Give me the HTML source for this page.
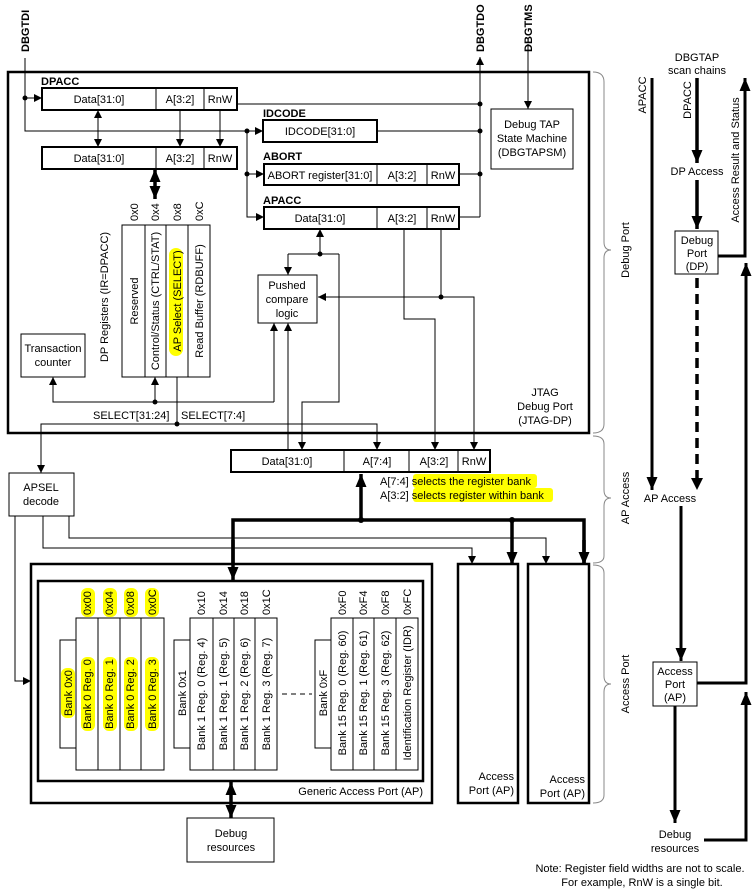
<!DOCTYPE html>
<html><head><meta charset="utf-8"><style>
html,body{margin:0;padding:0;background:#fff;}
svg{display:block;font-family:"Liberation Sans",Arial,sans-serif;font-size:11px;}
</style></head><body>
<svg width="754" height="892" viewBox="0 0 754 892" xmlns="http://www.w3.org/2000/svg">
<defs>
<marker id="a" viewBox="0 0 10 10" refX="10" refY="5" markerWidth="8" markerHeight="8" markerUnits="userSpaceOnUse" orient="auto"><path d="M0,0L10,5L0,10z" fill="#000"/></marker>
<marker id="as" viewBox="0 0 10 10" refX="0" refY="5" markerWidth="8" markerHeight="8" markerUnits="userSpaceOnUse" orient="auto"><path d="M10,0L0,5L10,10z" fill="#000"/></marker>
<marker id="b" viewBox="0 0 10 10" refX="10" refY="5" markerWidth="13" markerHeight="11" markerUnits="userSpaceOnUse" orient="auto" preserveAspectRatio="none"><path d="M0,0L10,5L0,10z" fill="#000"/></marker>
<marker id="bs" viewBox="0 0 10 10" refX="0" refY="5" markerWidth="13" markerHeight="11" markerUnits="userSpaceOnUse" orient="auto" preserveAspectRatio="none"><path d="M10,0L0,5L10,10z" fill="#000"/></marker>
</defs>
<g fill="none" stroke="#000">
<rect x="8" y="72" width="581" height="361" stroke-width="2.5"/>
<rect x="42" y="88" width="195" height="22" stroke-width="2"/>
<line x1="156" y1="88" x2="156" y2="110"/><line x1="204" y1="88" x2="204" y2="110"/>
<rect x="42" y="147" width="195" height="22" stroke-width="2"/>
<line x1="156" y1="147" x2="156" y2="169"/><line x1="204" y1="147" x2="204" y2="169"/>
<rect x="263" y="120" width="114" height="22" stroke-width="2"/>
<rect x="264" y="164" width="195" height="21" stroke-width="2"/>
<line x1="377" y1="164" x2="377" y2="185"/><line x1="427" y1="164" x2="427" y2="185"/>
<rect x="264" y="207" width="195" height="22" stroke-width="2"/>
<line x1="377" y1="207" x2="377" y2="229"/><line x1="427" y1="207" x2="427" y2="229"/>
<rect x="491" y="109" width="82" height="60"/>
<polyline points="25,58 25,131 246,131"/>
<line x1="25" y1="98" x2="42" y2="98" marker-end="url(#a)"/>
<line x1="247" y1="131" x2="263" y2="131" marker-end="url(#a)"/>
<line x1="247" y1="174" x2="264" y2="174" marker-end="url(#a)"/>
<polyline points="247,131 247,217 264,217" marker-end="url(#a)"/>
<line x1="480" y1="217" x2="480" y2="57" marker-end="url(#a)"/>
<polyline points="459,217 480,217"/>
<line x1="237" y1="104" x2="480" y2="104"/>
<line x1="377" y1="131" x2="480" y2="131"/>
<line x1="459" y1="174" x2="480" y2="174"/>
<line x1="528" y1="44" x2="528" y2="109" marker-end="url(#a)"/>
<line x1="98" y1="110" x2="98" y2="147" marker-start="url(#as)" marker-end="url(#a)"/>
<line x1="180" y1="110" x2="180" y2="147" marker-end="url(#a)"/>
<line x1="220" y1="110" x2="220" y2="147" marker-end="url(#a)"/>
<line x1="155" y1="169" x2="155" y2="199" stroke-width="3.5" marker-start="url(#bs)" marker-end="url(#b)"/>
<rect x="122" y="225" width="88" height="152"/>
<line x1="145" y1="225" x2="145" y2="377"/><line x1="166" y1="225" x2="166" y2="377"/><line x1="188" y1="225" x2="188" y2="377"/>
<rect x="21" y="334" width="64" height="43"/>
<rect x="258" y="275" width="59" height="48"/>
<line x1="320" y1="254" x2="320" y2="229" marker-end="url(#a)"/>
<polyline points="288,254 339,254"/>
<line x1="288" y1="254" x2="288" y2="275" marker-end="url(#a)"/>
<polyline points="339,254 339,402 302,402 302,450" marker-end="url(#a)"/>
<polyline points="441,229 441,297 474,297 474,450" marker-end="url(#a)"/>
<line x1="441" y1="297" x2="318" y2="297" marker-end="url(#a)"/>
<polyline points="404,229 404,319 435,319 435,450" marker-end="url(#a)"/>
<line x1="288" y1="450" x2="288" y2="323" marker-end="url(#a)"/>
<polyline points="274,402 53,402 53,377" marker-end="url(#a)"/>
<line x1="274" y1="402" x2="274" y2="323" marker-end="url(#a)"/>
<line x1="155" y1="402" x2="155" y2="377" marker-end="url(#a)"/>
<line x1="177" y1="377" x2="177" y2="424"/>
<polyline points="41,473 41,424 377,424 377,450" marker-end="url(#a)"/>
<line x1="41" y1="440" x2="41" y2="473" marker-end="url(#a)"/>
<rect x="231" y="450" width="259" height="22" stroke-width="2"/>
<line x1="344" y1="450" x2="344" y2="472"/><line x1="409" y1="450" x2="409" y2="472"/><line x1="458" y1="450" x2="458" y2="472"/>
<rect x="9" y="473" width="65" height="43"/>
<line x1="361" y1="520" x2="361" y2="474" stroke-width="3.5" marker-end="url(#b)"/>
<polyline points="233,565 233,520 584,520 584,565" stroke-width="3.5"/>
<line x1="233" y1="540" x2="233" y2="580" stroke-width="3.5" marker-end="url(#b)"/>
<line x1="584" y1="540" x2="584" y2="565" stroke-width="3.5" marker-end="url(#b)"/>
<line x1="512" y1="520" x2="512" y2="565" stroke-width="3.5" marker-end="url(#b)"/>
<polyline points="15,516 15,681 31,681" marker-end="url(#a)"/>
<polyline points="43,516 43,548 472,548 472,564" marker-end="url(#a)"/>
<polyline points="69,516 69,538 546,538 546,564" marker-end="url(#a)"/>
<rect x="31" y="564" width="401" height="239" stroke-width="2.5"/>
<rect x="38" y="581" width="385" height="200" stroke-width="2.5"/>
<line x1="231" y1="782" x2="231" y2="818" stroke-width="3.5" marker-start="url(#bs)" marker-end="url(#b)"/>
<rect x="187" y="818" width="87" height="44"/>
<rect x="458" y="564" width="60" height="239" stroke-width="2.5"/>
<rect x="528" y="564" width="61" height="239" stroke-width="2.5"/>
<rect x="60" y="640" width="16" height="108"/>
<rect x="76" y="618" width="88" height="152"/>
<line x1="98" y1="618" x2="98" y2="770"/><line x1="120" y1="618" x2="120" y2="770"/><line x1="141" y1="618" x2="141" y2="770"/>
<rect x="174" y="640" width="16" height="108"/>
<rect x="190" y="618" width="87" height="152"/>
<line x1="213" y1="618" x2="213" y2="770"/><line x1="234" y1="618" x2="234" y2="770"/><line x1="255" y1="618" x2="255" y2="770"/>
<line x1="282" y1="694" x2="312" y2="694" stroke-dasharray="5,4"/>
<rect x="315" y="640" width="16" height="108"/>
<rect x="331" y="618" width="87" height="152"/>
<line x1="353" y1="618" x2="353" y2="770"/><line x1="374" y1="618" x2="374" y2="770"/><line x1="396" y1="618" x2="396" y2="770"/>
<g stroke="#888">
<path d="M593,72 Q604,72 604,82 L604,242 Q604,250 611,250 Q604,250 604,258 L604,424 Q604,433 593,433"/>
<path d="M593,436 Q604,436 604,444 L604,490 Q604,498 611,498 Q604,498 604,506 L604,556 Q604,563 593,563"/>
<path d="M593,565 Q604,565 604,573 L604,676 Q604,684 611,684 Q604,684 604,692 L604,795 Q604,803 593,803"/>
</g>
<line x1="652" y1="78" x2="652" y2="490" stroke-width="3" marker-end="url(#b)"/>
<line x1="697" y1="78" x2="697" y2="163" stroke-width="3.5" marker-end="url(#b)"/>
<line x1="697" y1="180" x2="697" y2="229" stroke-width="3.5" marker-end="url(#b)"/>
<rect x="675" y="231" width="43" height="43"/>
<polyline points="718,256 745,256 745,78" stroke-width="3" marker-end="url(#b)"/>
<line x1="697" y1="278" x2="697" y2="478" stroke-width="3.5" stroke-dasharray="10,6"/>
<path d="M691,478 L703,478 L697,490z" fill="#000" stroke="none"/>
<line x1="681" y1="506" x2="681" y2="661" stroke-width="3" marker-end="url(#b)"/>
<rect x="653" y="662" width="44" height="44"/>
<polyline points="697,683 746,683 746,263" stroke-width="3" marker-end="url(#b)"/>
<line x1="675" y1="706" x2="675" y2="823" stroke-width="3" marker-end="url(#b)"/>
<polyline points="704,840 746,840 746,692" stroke-width="3" marker-end="url(#b)"/>
</g>
<g fill="#000">
<circle cx="25" cy="98" r="2.5"/><circle cx="247" cy="131" r="2.5"/><circle cx="247" cy="174" r="2.5"/>
<circle cx="480" cy="104" r="2.5"/><circle cx="480" cy="131" r="2.5"/><circle cx="480" cy="174" r="2.5"/>
<circle cx="320" cy="254" r="2.5"/><circle cx="441" cy="297" r="2.5"/><circle cx="155" cy="402" r="2.5"/>
<circle cx="177" cy="424" r="2.5"/><circle cx="361" cy="520" r="3"/><circle cx="512" cy="520" r="3"/>
</g>
<g fill="#ffff00">
<rect x="169" y="248" width="14" height="108" rx="7"/>
<rect x="413" y="474" width="124" height="14" rx="3"/>
<rect x="413" y="488" width="140" height="14" rx="3"/>
<rect x="81" y="588" width="14" height="29" rx="6"/><rect x="103" y="588" width="14" height="29" rx="6"/>
<rect x="124" y="588" width="14" height="29" rx="6"/><rect x="145" y="588" width="14" height="29" rx="6"/>
<rect x="81" y="657" width="14" height="74" rx="6"/><rect x="103" y="657" width="14" height="74" rx="6"/>
<rect x="124" y="657" width="14" height="74" rx="6"/><rect x="145" y="657" width="14" height="74" rx="6"/>
<rect x="61" y="668" width="14" height="50" rx="6"/>
</g>
<g fill="#000">
<text transform="translate(29,52) rotate(-90)" font-weight="bold">DBGTDI</text>
<text transform="translate(484,52) rotate(-90)" font-weight="bold">DBGTDO</text>
<text transform="translate(532,52) rotate(-90)" font-weight="bold">DBGTMS</text>
<text x="41" y="85" font-weight="bold">DPACC</text>
<text x="263" y="117" font-weight="bold">IDCODE</text>
<text x="263" y="160" font-weight="bold">ABORT</text>
<text x="263" y="204" font-weight="bold">APACC</text>
<g text-anchor="middle">
<text x="99" y="103">Data[31:0]</text><text x="180" y="103">A[3:2]</text><text x="220" y="103">RnW</text>
<text x="99" y="162">Data[31:0]</text><text x="180" y="162">A[3:2]</text><text x="220" y="162">RnW</text>
<text x="320" y="135">IDCODE[31:0]</text>
<text x="320" y="179">ABORT register[31:0]</text><text x="402" y="179">A[3:2]</text><text x="443" y="179">RnW</text>
<text x="320" y="222">Data[31:0]</text><text x="402" y="222">A[3:2]</text><text x="443" y="222">RnW</text>
<text x="532" y="128">Debug TAP</text><text x="532" y="142">State Machine</text><text x="532" y="156">(DBGTAPSM)</text>
<text x="53" y="352">Transaction</text><text x="53" y="366">counter</text>
<text x="287" y="289">Pushed</text><text x="287" y="303">compare</text><text x="287" y="317">logic</text>
<text x="545" y="396">JTAG</text><text x="545" y="410">Debug Port</text><text x="545" y="424">(JTAG-DP)</text>
<text x="287" y="465">Data[31:0]</text><text x="377" y="465">A[7:4]</text><text x="434" y="465">A[3:2]</text><text x="474" y="465">RnW</text>
<text x="41" y="491">APSEL</text><text x="41" y="505">decode</text>
<text x="231" y="837">Debug</text><text x="231" y="851">resources</text>
<text x="697" y="61">DBGTAP</text><text x="697" y="74">scan chains</text>
<text x="697" y="175">DP Access</text>
<text x="697" y="244">Debug</text><text x="697" y="257">Port</text><text x="697" y="270">(DP)</text>
<text x="670" y="502">AP Access</text>
<text x="675" y="675">Access</text><text x="675" y="688">Port</text><text x="675" y="701">(AP)</text>
<text x="675" y="838">Debug</text><text x="675" y="852">resources</text>
<text x="640" y="872">Note: Register field widths are not to scale.</text>
<text x="642" y="886">For example, RnW is a single bit.</text>
</g>
<g text-anchor="end">
<text x="514" y="780">Access</text><text x="514" y="794">Port (AP)</text>
<text x="585" y="783">Access</text><text x="585" y="797">Port (AP)</text>
<text x="423" y="795">Generic Access Port (AP)</text>
</g>
<text x="93" y="419">SELECT[31:24]</text><text x="181" y="419">SELECT[7:4]</text>
<text x="380" y="485">A[7:4] selects the register bank</text>
<text x="380" y="499">A[3:2] selects register within bank</text>
<g text-anchor="middle">
<text transform="translate(108,297) rotate(-90)">DP Registers (IR=DPACC)</text>
<text transform="translate(138,301) rotate(-90)">Reserved</text>
<text transform="translate(159,301) rotate(-90)">Control/Status (CTRL/STAT)</text>
<text transform="translate(181,301) rotate(-90)">AP Select (SELECT)</text>
<text transform="translate(203,301) rotate(-90)">Read Buffer (RDBUFF)</text>
<text transform="translate(629,250) rotate(-90)">Debug Port</text>
<text transform="translate(629,498) rotate(-90)">AP Access</text>
<text transform="translate(629,684) rotate(-90)">Access Port</text>
<text transform="translate(646,95) rotate(-90)">APACC</text>
<text transform="translate(691,100) rotate(-90)">DPACC</text>
<text transform="translate(739,160) rotate(-90)">Access Result and Status</text>
<text transform="translate(72,693) rotate(-90)">Bank 0x0</text>
<text transform="translate(91,694) rotate(-90)">Bank 0 Reg. 0</text>
<text transform="translate(113,694) rotate(-90)">Bank 0 Reg. 1</text>
<text transform="translate(134,694) rotate(-90)">Bank 0 Reg. 2</text>
<text transform="translate(156,694) rotate(-90)">Bank 0 Reg. 3</text>
<text transform="translate(186,693) rotate(-90)">Bank 0x1</text>
<text transform="translate(205,694) rotate(-90)">Bank 1 Reg. 0 (Reg. 4)</text>
<text transform="translate(227,694) rotate(-90)">Bank 1 Reg. 1 (Reg. 5)</text>
<text transform="translate(248,694) rotate(-90)">Bank 1 Reg. 2 (Reg. 6)</text>
<text transform="translate(270,694) rotate(-90)">Bank 1 Reg. 3 (Reg. 7)</text>
<text transform="translate(327,693) rotate(-90)">Bank 0xF</text>
<text transform="translate(346,693) rotate(-90)">Bank 15 Reg. 0 (Reg. 60)</text>
<text transform="translate(367,693) rotate(-90)">Bank 15 Reg. 1 (Reg. 61)</text>
<text transform="translate(389,693) rotate(-90)">Bank 15 Reg. 3 (Reg. 62)</text>
<text transform="translate(411,693) rotate(-90)">Identification Register (IDR)</text>
</g>
<g>
<text transform="translate(138,221) rotate(-90)">0x0</text>
<text transform="translate(159,221) rotate(-90)">0x4</text>
<text transform="translate(181,221) rotate(-90)">0x8</text>
<text transform="translate(203,221) rotate(-90)">0xC</text>
<text transform="translate(91,615) rotate(-90)">0x00</text>
<text transform="translate(113,615) rotate(-90)">0x04</text>
<text transform="translate(134,615) rotate(-90)">0x08</text>
<text transform="translate(156,615) rotate(-90)">0x0C</text>
<text transform="translate(205,615) rotate(-90)">0x10</text>
<text transform="translate(227,615) rotate(-90)">0x14</text>
<text transform="translate(248,615) rotate(-90)">0x18</text>
<text transform="translate(270,615) rotate(-90)">0x1C</text>
<text transform="translate(346,615) rotate(-90)">0xF0</text>
<text transform="translate(367,615) rotate(-90)">0xF4</text>
<text transform="translate(389,615) rotate(-90)">0xF8</text>
<text transform="translate(411,615) rotate(-90)">0xFC</text>
</g>
</g>
</svg>
</body></html>
